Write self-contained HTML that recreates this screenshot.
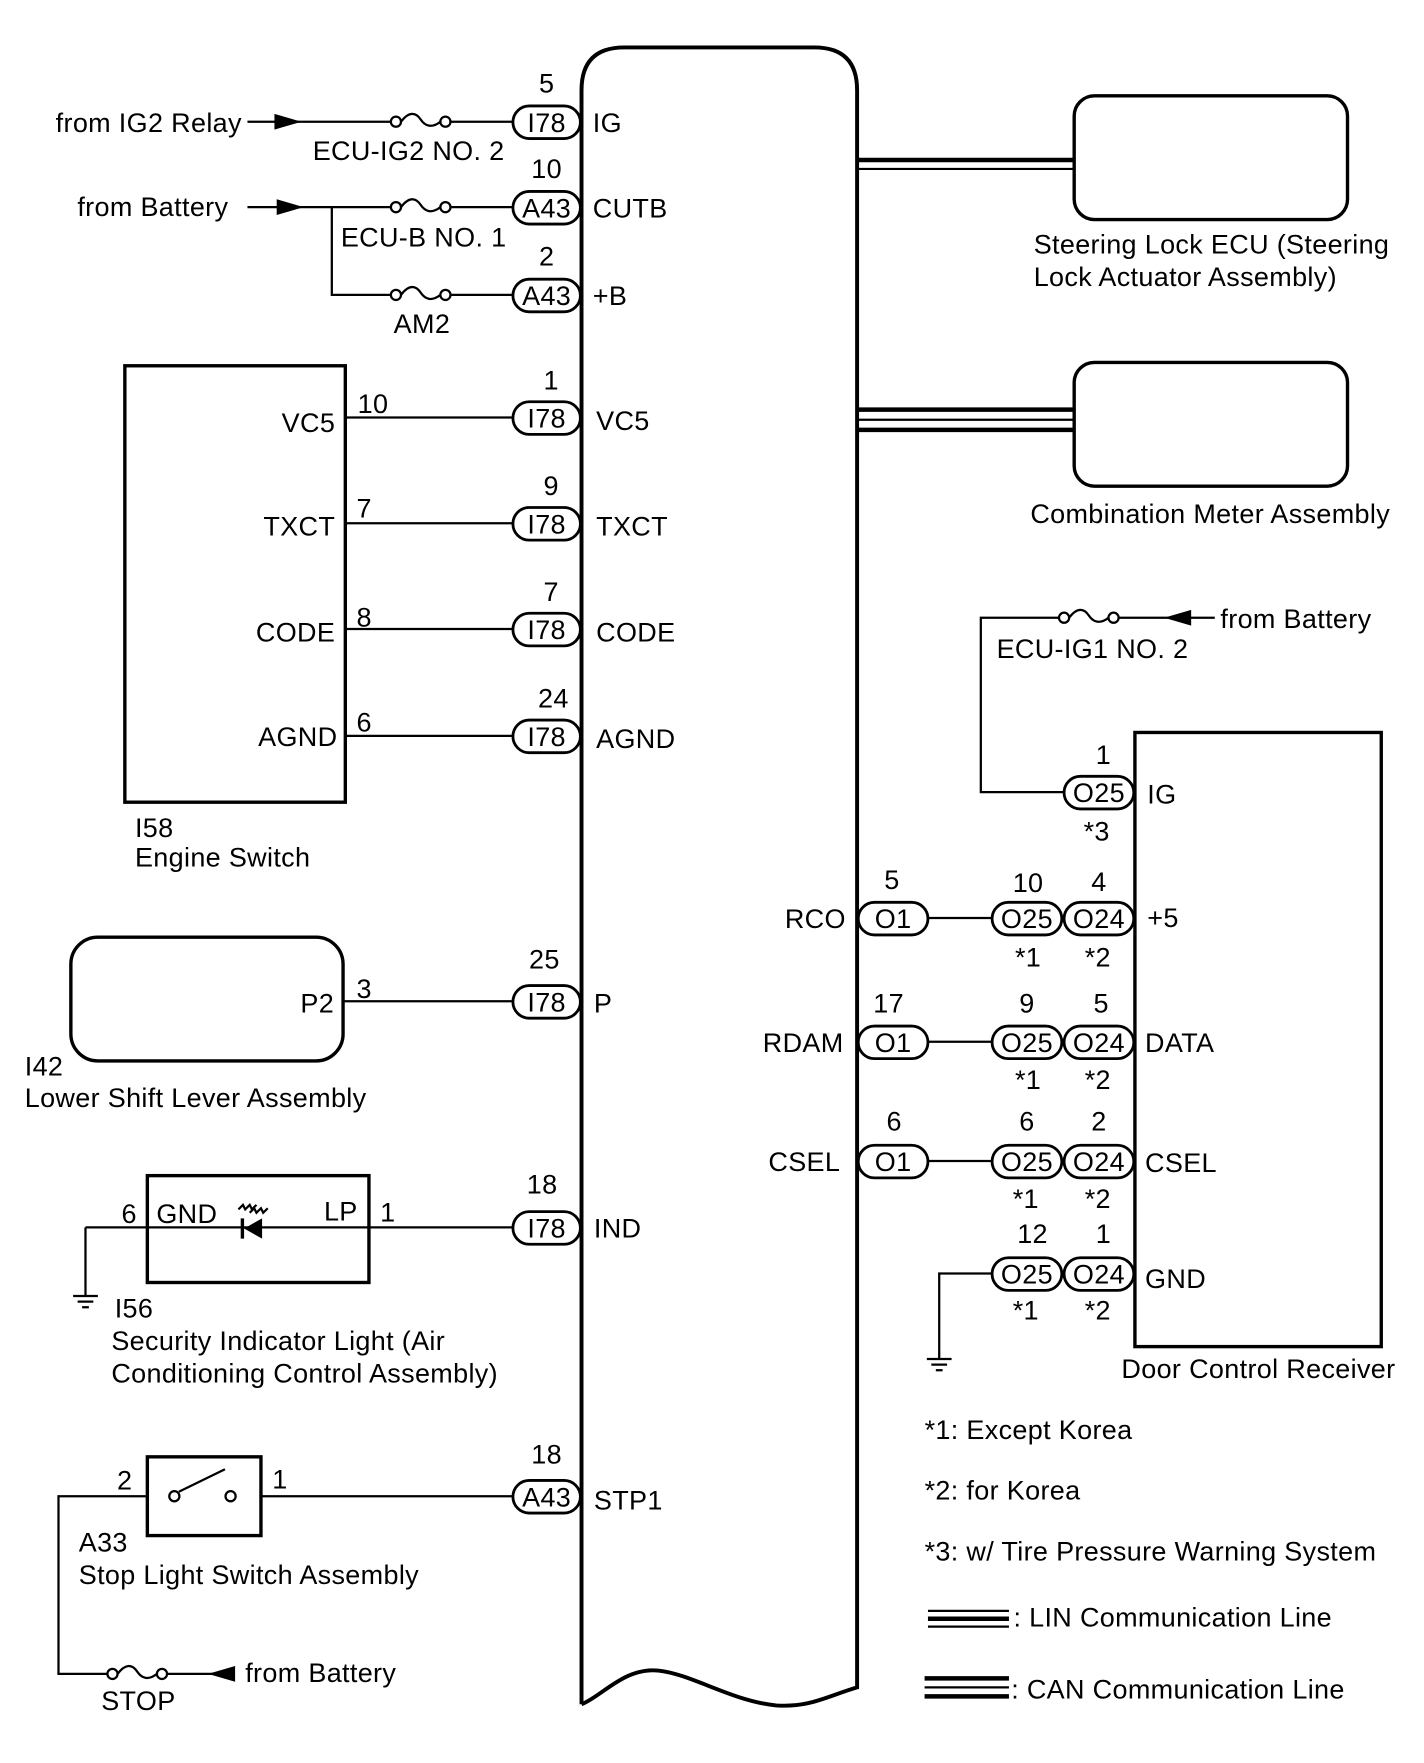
<!DOCTYPE html>
<html><head><meta charset="utf-8"><style>
html,body{margin:0;padding:0;background:#fff}
svg{display:block}
text{font-family:"Liberation Sans",sans-serif;font-size:24px;letter-spacing:0.3px;fill:#000}
</style></head><body>
<svg width="1424" height="1763" viewBox="0 0 1266 1567" xmlns="http://www.w3.org/2000/svg">
<defs>
<g id="fuse"><circle cx="0" cy="0" r="4.5" fill="#fff" stroke="#000" stroke-width="2"/><circle cx="44" cy="0" r="4.5" fill="#fff" stroke="#000" stroke-width="2"/><path d="M4.5,0 C12,-10 18,-8 22,-2 C26,4 32,6 39.5,0" fill="none" stroke="#000" stroke-width="2"/></g>
<g id="gnd"><line x1="-11" y1="0" x2="11" y2="0" stroke="#000" stroke-width="2"/><line x1="-7" y1="5" x2="7" y2="5" stroke="#000" stroke-width="2"/><line x1="-3" y1="10" x2="3" y2="10" stroke="#000" stroke-width="2"/></g>
</defs>
<g fill="none" stroke="#000" stroke-width="2">
<path d="M517,1515 L517,80 Q517,42 555,42 L724,42 Q762,42 762,80 L762,1500 C735,1508 720,1518 690,1516 C650,1512 615,1488 585,1485 C555,1482 535,1508 517,1515" stroke-width="3.5"/>
<line x1="220" y1="108" x2="268" y2="108"/>
<line x1="268" y1="108" x2="348" y2="108"/><line x1="400" y1="108" x2="456" y2="108"/>
<line x1="220" y1="184" x2="268" y2="184"/>
<line x1="268" y1="184" x2="348" y2="184"/><line x1="400" y1="184" x2="456" y2="184"/>
<polyline points="295,184 295,262 348,262"/><line x1="400" y1="262" x2="456" y2="262"/>
<rect x="111" y="325" width="196" height="388" stroke-width="3"/>
<line x1="307" y1="371" x2="456" y2="371"/>
<line x1="307" y1="465" x2="456" y2="465"/>
<line x1="307" y1="559" x2="456" y2="559"/>
<line x1="307" y1="654" x2="456" y2="654"/>
<rect x="63" y="833" width="242" height="110" rx="24" stroke-width="3"/>
<line x1="305" y1="890" x2="456" y2="890"/>
<rect x="131" y="1045" width="197" height="95" stroke-width="3"/>
<line x1="76" y1="1091" x2="456" y2="1091"/>
<line x1="76" y1="1091" x2="76" y2="1152"/>
<rect x="131" y="1295" width="101" height="70" stroke-width="3"/>
<line x1="232" y1="1330" x2="456" y2="1330"/>
<polyline points="131,1330 52,1330 52,1488 98,1488"/>
<line x1="145" y1="1488" x2="200" y2="1488"/>
<circle cx="155" cy="1330" r="4.5" fill="#fff"/><circle cx="205" cy="1330" r="4.5" fill="#fff"/>
<line x1="159" y1="1326" x2="200" y2="1306"/>
<rect x="955" y="85" width="243" height="110" rx="18" stroke-width="3"/>
<rect x="955" y="322" width="243" height="110" rx="18" stroke-width="3"/>
<rect x="1009" y="651" width="219" height="546" stroke-width="3"/>
<line x1="994" y1="549" x2="1040" y2="549"/>
<polyline points="942,549 872,549 872,704 946,704"/>
<line x1="825" y1="816" x2="882" y2="816"/>
<line x1="825" y1="926" x2="882" y2="926"/>
<line x1="825" y1="1032" x2="882" y2="1032"/>
<polyline points="882,1132 835,1132 835,1208"/>
</g>
<g stroke="#000">
<line x1="762" y1="142" x2="955" y2="142" stroke-width="4"/>
<line x1="762" y1="150" x2="955" y2="150" stroke-width="2"/>
<line x1="762" y1="364" x2="955" y2="364" stroke-width="4"/>
<line x1="762" y1="373" x2="955" y2="373" stroke-width="2"/>
<line x1="762" y1="382" x2="955" y2="382" stroke-width="4"/>
<line x1="825" y1="1432" x2="897" y2="1432" stroke-width="2"/>
<line x1="825" y1="1439" x2="897" y2="1439" stroke-width="4"/>
<line x1="825" y1="1446" x2="897" y2="1446" stroke-width="2"/>
<line x1="822" y1="1492" x2="897" y2="1492" stroke-width="4"/>
<line x1="822" y1="1500" x2="897" y2="1500" stroke-width="2"/>
<line x1="822" y1="1508" x2="897" y2="1508" stroke-width="4"/>
</g>
<g fill="#000">
<polygon points="268,108 244,101 244,115"/>
<polygon points="270,184 246,177 246,191"/>
<polygon points="185,1488 209,1481 209,1495"/>
<polygon points="1035,549 1059,542 1059,556"/>
<polygon points="217,1092 233,1083 233,1101"/>
<rect x="214" y="1083" width="3" height="18"/>
</g>
<g stroke="#000" stroke-width="2" fill="none"><line x1="1040" y1="549" x2="1080" y2="549"/><path d="M212,1075 l4,-4 2,4 4,-4 2,4 4,-4 M222,1078 l4,-4 2,4 4,-4 2,4 4,-4"/></g>
<use href="#fuse" x="352" y="108"/><use href="#fuse" x="352" y="184"/><use href="#fuse" x="352" y="262"/>
<use href="#fuse" x="946" y="549"/><use href="#fuse" x="100" y="1488"/>
<use href="#gnd" x="76" y="1152"/><use href="#gnd" x="835" y="1208"/>
<g fill="#fff" stroke="#000" stroke-width="2.5">
<rect x="456" y="94" width="60" height="29" rx="14.5"/>
<rect x="456" y="170" width="60" height="29" rx="14.5"/>
<rect x="456" y="248" width="60" height="29" rx="14.5"/>
<rect x="456" y="357" width="60" height="29" rx="14.5"/>
<rect x="456" y="451" width="60" height="29" rx="14.5"/>
<rect x="456" y="545" width="60" height="29" rx="14.5"/>
<rect x="456" y="640" width="60" height="29" rx="14.5"/>
<rect x="456" y="876" width="60" height="29" rx="14.5"/>
<rect x="456" y="1077" width="60" height="29" rx="14.5"/>
<rect x="456" y="1316" width="60" height="29" rx="14.5"/>
<rect x="946" y="690" width="62" height="29" rx="14.5"/>
<rect x="763" y="802" width="62" height="29" rx="14.5"/>
<rect x="882" y="802" width="62" height="29" rx="14.5"/>
<rect x="946" y="802" width="62" height="29" rx="14.5"/>
<rect x="763" y="912" width="62" height="29" rx="14.5"/>
<rect x="882" y="912" width="62" height="29" rx="14.5"/>
<rect x="946" y="912" width="62" height="29" rx="14.5"/>
<rect x="763" y="1018" width="62" height="29" rx="14.5"/>
<rect x="882" y="1018" width="62" height="29" rx="14.5"/>
<rect x="946" y="1018" width="62" height="29" rx="14.5"/>
<rect x="882" y="1118" width="62" height="29" rx="14.5"/>
<rect x="946" y="1118" width="62" height="29" rx="14.5"/>
</g>
<g text-anchor="middle">
<text x="486" y="117">I78</text><text x="486" y="193">A43</text><text x="486" y="271">A43</text>
<text x="486" y="380">I78</text><text x="486" y="474">I78</text><text x="486" y="568">I78</text><text x="486" y="663">I78</text>
<text x="486" y="899">I78</text><text x="486" y="1100">I78</text><text x="486" y="1339">A43</text>
<text x="977" y="713">O25</text>
<text x="794" y="825">O1</text><text x="913" y="825">O25</text><text x="977" y="825">O24</text>
<text x="794" y="935">O1</text><text x="913" y="935">O25</text><text x="977" y="935">O24</text>
<text x="794" y="1041">O1</text><text x="913" y="1041">O25</text><text x="977" y="1041">O24</text>
<text x="913" y="1141">O25</text><text x="977" y="1141">O24</text>
<text x="486" y="82">5</text><text x="486" y="158">10</text><text x="486" y="236">2</text>
<text x="490" y="346">1</text><text x="490" y="440">9</text><text x="490" y="534">7</text><text x="492" y="629">24</text>
<text x="484" y="861">25</text><text x="482" y="1061">18</text><text x="486" y="1301">18</text>
<text x="981" y="679">1</text><text x="975" y="747">*3</text>
<text x="793" y="790">5</text><text x="914" y="793">10</text><text x="977" y="792">4</text>
<text x="914" y="859">*1</text><text x="976" y="859">*2</text>
<text x="790" y="900">17</text><text x="913" y="900">9</text><text x="979" y="900">5</text>
<text x="914" y="968">*1</text><text x="976" y="968">*2</text>
<text x="795" y="1005">6</text><text x="913" y="1005">6</text><text x="977" y="1005">2</text>
<text x="912" y="1074">*1</text><text x="976" y="1074">*2</text>
<text x="918" y="1105">12</text><text x="981" y="1105">1</text>
<text x="912" y="1173">*1</text><text x="976" y="1173">*2</text>
</g>
<text x="527" y="117">IG</text><text x="527" y="193">CUTB</text><text x="527" y="271">+B</text>
<text x="530" y="382">VC5</text><text x="530" y="476">TXCT</text><text x="530" y="570">CODE</text><text x="530" y="665">AGND</text>
<text x="528" y="900">P</text><text x="528" y="1100">IND</text><text x="528" y="1342">STP1</text>
<g text-anchor="end">
<text x="215" y="117">from IG2 Relay</text><text x="203" y="192">from Battery</text>
<text x="298" y="384">VC5</text><text x="298" y="476">TXCT</text><text x="298" y="570">CODE</text><text x="300" y="663">AGND</text>
<text x="297" y="900">P2</text>
<text x="752" y="825">RCO</text><text x="750" y="935">RDAM</text><text x="747" y="1041">CSEL</text>
</g>
<text x="278" y="142">ECU-IG2 NO. 2</text><text x="303" y="219">ECU-B NO. 1</text><text x="350" y="296">AM2</text>
<text x="318" y="367">10</text><text x="317" y="460">7</text><text x="317" y="557">8</text><text x="317" y="650">6</text>
<text x="120" y="744">I58</text><text x="120" y="770">Engine Switch</text>
<text x="317" y="887">3</text>
<text x="22" y="956">I42</text><text x="22" y="984">Lower Shift Lever Assembly</text>
<text x="108" y="1087">6</text><text x="139" y="1087">GND</text><text x="288" y="1085">LP</text><text x="338" y="1086">1</text>
<text x="102" y="1171">I56</text><text x="99" y="1200">Security Indicator Light (Air</text><text x="99" y="1229">Conditioning Control Assembly)</text>
<text x="104" y="1324">2</text><text x="242" y="1323">1</text>
<text x="70" y="1379">A33</text><text x="70" y="1408">Stop Light Switch Assembly</text>
<text x="218" y="1495">from Battery</text><text x="90" y="1520">STOP</text>
<text x="919" y="225">Steering Lock ECU (Steering</text><text x="919" y="254">Lock Actuator Assembly)</text>
<text x="916" y="465">Combination Meter Assembly</text>
<text x="1085" y="558">from Battery</text><text x="886" y="585">ECU-IG1 NO. 2</text>
<text x="1020" y="714">IG</text><text x="1020" y="824">+5</text><text x="1018" y="935">DATA</text><text x="1018" y="1042">CSEL</text><text x="1018" y="1145">GND</text>
<text x="997" y="1225">Door Control Receiver</text>
<text x="822" y="1279">*1: Except Korea</text><text x="822" y="1333">*2: for Korea</text><text x="822" y="1387">*3: w/ Tire Pressure Warning System</text>
<text x="901" y="1446">: LIN Communication Line</text><text x="899" y="1510">: CAN Communication Line</text>
</svg>
</body></html>
